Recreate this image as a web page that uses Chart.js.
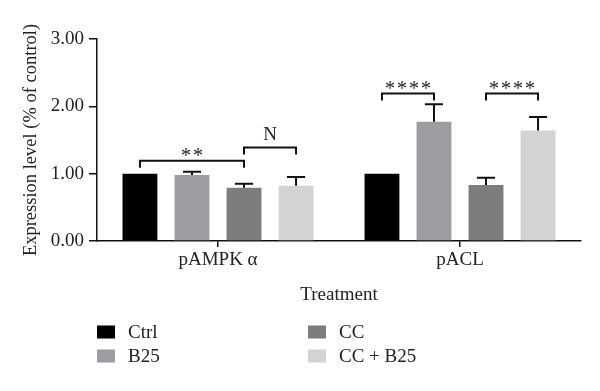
<!DOCTYPE html>
<html>
<head>
<meta charset="utf-8">
<script src="https://cdn.jsdelivr.net/npm/chart.js@4"></script>
<style>
  html, body { margin: 0; padding: 0; background: #fff; }
  #wrap { width: 600px; height: 391px; position: relative; }
</style>
</head>
<body>
<div id="wrap"><canvas id="chart" width="600" height="391"></canvas></div>
<script>
// categories and groups
const categories = ['pAMPK \u03b1', 'pACL'];
const groups = ['Ctrl', 'B25', 'CC', 'CC + B25'];
const groupColors = ['#000000', '#9d9da1', '#7d7d7d', '#d3d3d3'];

// mean values per group: [pAMPK, pACL]
const ctrlValues = [1.00, 1.00];
const b25Values = [0.98, 1.77];
const ccValues = [0.79, 0.83];
const ccB25Values = [0.82, 1.64];

// upper error (SD) per group
const ctrlErr = [0, 0];
const b25Err = [0.05, 0.26];
const ccErr = [0.06, 0.11];
const ccB25Err = [0.13, 0.20];

// significance brackets: category, from group, to group, height, label
const sigCategory = [0, 0, 1, 1];
const sigFrom = [0, 2, 0, 2];
const sigTo = [2, 3, 1, 3];
const sigLevel = [1.19, 1.39, 2.19, 2.19];
const sigLabel = ['**', 'N', '****', '****'];

const yTicks = [0, 1, 2, 3];

const FONT = 'Liberation Serif';
Chart.defaults.font.family = FONT;
Chart.defaults.font.size = 19;
Chart.defaults.color = '#222';

const allValues = [ctrlValues, b25Values, ccValues, ccB25Values];
const allErrors = [ctrlErr, b25Err, ccErr, ccB25Err];

const errorBars = {
    id: 'errorBars',
    afterDatasetsDraw(chart) {
        const ctx = chart.ctx;
        const y = chart.scales.y;
        ctx.save();
        ctx.strokeStyle = '#111';
        ctx.lineWidth = 2;
        chart.data.datasets.forEach((ds, i) => {
            const meta = chart.getDatasetMeta(i);
            meta.data.forEach((bar, j) => {
                const err = allErrors[i][j];
                if (!err) return;
                const top = y.getPixelForValue(allValues[i][j] + err);
                const half = bar.width * 0.26;
                ctx.beginPath();
                ctx.moveTo(bar.x, bar.y);
                ctx.lineTo(bar.x, top);
                ctx.moveTo(bar.x - half, top);
                ctx.lineTo(bar.x + half, top);
                ctx.stroke();
            });
        });
        ctx.restore();
    }
};

const sigBrackets = {
    id: 'sigBrackets',
    afterDatasetsDraw(chart) {
        const ctx = chart.ctx;
        const y = chart.scales.y;
        ctx.save();
        ctx.strokeStyle = '#111';
        ctx.fillStyle = '#222';
        ctx.lineWidth = 2;
        ctx.textAlign = 'center';
        ctx.textBaseline = 'alphabetic';
        sigLabel.forEach((label, k) => {
            const c = sigCategory[k];
            const x1 = chart.getDatasetMeta(sigFrom[k]).data[c].x;
            const x2 = chart.getDatasetMeta(sigTo[k]).data[c].x;
            const yy = y.getPixelForValue(sigLevel[k]);
            ctx.beginPath();
            ctx.moveTo(x1, yy + 7);
            ctx.lineTo(x1, yy);
            ctx.lineTo(x2, yy);
            ctx.lineTo(x2, yy + 7);
            ctx.stroke();
            const isStar = label.indexOf('*') >= 0;
            ctx.font = (isStar ? '20px "' : '19px "') + FONT + '"';
            ctx.letterSpacing = isStar ? '2px' : '0px';
            ctx.fillText(label, (x1 + x2) / 2 + (isStar ? 1 : 0), isStar ? yy + 1 : yy - 7);
        });
        ctx.restore();
    }
};

const gridLegend = {
    id: 'gridLegend',
    afterDraw(chart) {
        const ctx = chart.ctx;
        ctx.save();
        ctx.font = '19px "' + FONT + '"';
        ctx.textBaseline = 'middle';
        ctx.textAlign = 'left';
        groups.forEach((name, i) => {
            const col = Math.floor(i / 2), row = i % 2;
            const x = 97 + col * 211;
            const yc = 332 + row * 24;
            ctx.fillStyle = groupColors[i];
            ctx.fillRect(x, yc - 6.5, 18, 13);
            ctx.fillStyle = '#222';
            ctx.fillText(name, x + 31, yc + 1);
        });
        ctx.restore();
    }
};

new Chart(document.getElementById('chart').getContext('2d'), {
    type: 'bar',
    data: {
        labels: categories,
        datasets: groups.map((g, i) => ({
            label: g,
            data: allValues[i],
            backgroundColor: groupColors[i],
            borderWidth: 0,
            categoryPercentage: 0.86,
            barPercentage: 0.67
        }))
    },
    options: {
        responsive: false,
        animation: false,
        layout: { padding: { top: 39, right: 19, bottom: 85, left: 0 } },
        plugins: {
            legend: { display: false },
            tooltip: { enabled: false }
        },
        scales: {
            x: {
                afterFit: s => { s.height = 65; },
                grid: { display: true, drawOnChartArea: false, offset: false, tickLength: 6, color: '#111', lineWidth: 1.5 },
                border: { color: '#111', width: 1.5 },
                ticks: { padding: 2, font: { size: 19 } },
                title: { display: true, text: 'Treatment', font: { size: 19 }, padding: { top: 4, bottom: 0 } }
            },
            y: {
                min: 0,
                max: 3,
                afterBuildTicks: s => { s.ticks = yTicks.map(v => ({ value: v })); },
                afterFit: s => { s.width = 97; },
                grid: { display: true, drawOnChartArea: false, tickLength: 8, color: '#111', lineWidth: 1.5 },
                border: { color: '#111', width: 1.5 },
                ticks: { padding: 5, font: { size: 19 }, callback: v => Number(v).toFixed(2) },
                title: { display: true, text: 'Expression level (% of control)', font: { size: 18.5 }, padding: { top: 20, bottom: 4 } }
            }
        }
    },
    plugins: [errorBars, sigBrackets, gridLegend]
});
</script>
</body>
</html>
